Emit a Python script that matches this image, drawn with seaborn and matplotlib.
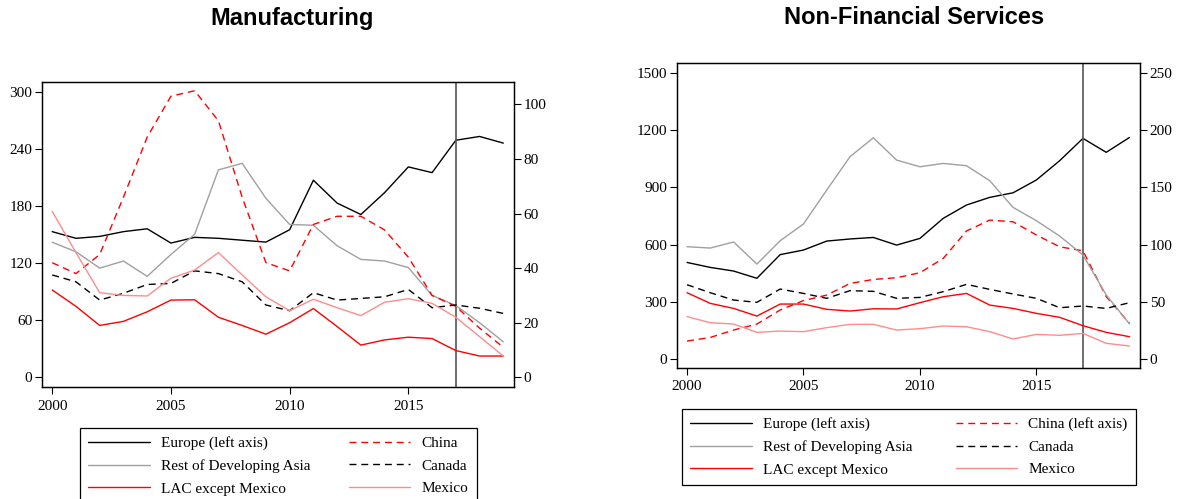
import numpy as np
import pandas as pd
import seaborn as sns
import matplotlib.pyplot as plt

years = list(range(2000, 2020))

# Manufacturing: Europe on left axis, the rest on right axis
mfg_europe = [153, 146, 148, 153, 156, 141, 147, 146, 144, 142, 155, 207, 183, 171, 194, 221, 215, 249, 253, 246]
mfg_china = [42, 38, 45, 66, 88, 103, 105, 94, 66, 42, 39, 56, 59, 59, 54, 44, 30, 26, 18, 11]
mfg_asia = [49.5, 46, 40, 42.6, 37, 45, 52.4, 76, 78.4, 65.6, 56, 55.7, 48.2, 43.2, 42.6, 40.2, 30, 26.3, 20, 13]
mfg_canada = [37.5, 35, 28.3, 30.8, 34, 34.4, 39, 38, 35, 26.5, 24.4, 31, 28.3, 28.9, 29.5, 32.2, 25.5, 26.5, 25.3, 23.4]
mfg_lac = [32, 26, 19, 20.5, 24, 28.3, 28.4, 22, 19, 15.8, 20, 25.2, 18.6, 11.8, 13.7, 14.7, 14.2, 9.8, 7.8, 7.8]
mfg_mexico = [60.8, 45.7, 31, 30, 29.8, 36.3, 39.3, 45.7, 37.5, 29.5, 24.4, 28.6, 25.5, 22.6, 27.5, 28.8, 27.1, 22, 14.9, 7.8]

# Non-financial services: Europe and China on left axis, the rest on right axis
svc_europe = [506, 480, 461, 423, 547, 571, 618, 629, 637, 597, 632, 737, 807, 847, 871, 938, 1039, 1156, 1083, 1161]
svc_china = [94, 113, 152, 183, 257, 306, 335, 396, 417, 426, 452, 527, 671, 728, 719, 650, 588, 567, 327, 187]
svc_asia = [98.1, 96.9, 102.2, 82.9, 103.3, 117.9, 147.6, 176.7, 193.2, 173.7, 167.9, 170.8, 168.8, 155.7, 132.4, 120.8, 107.4, 90.8, 55.9, 30.6]
svc_canada = [64.9, 57.9, 51.5, 49.5, 61.1, 57.3, 53, 59.7, 59.1, 53, 53.8, 58.8, 65.2, 60.8, 56.8, 53, 44.8, 46.3, 44.2, 49.2]
svc_lac = [57.9, 48.6, 44.2, 37.5, 48, 48, 43.4, 41.9, 43.9, 43.7, 49.2, 54.4, 57.3, 47.1, 44.2, 39.9, 36.4, 29.1, 23.3, 19.5]
svc_mexico = [37, 31.7, 30.6, 23.3, 24.4, 23.9, 27.4, 30.3, 30.3, 25.3, 26.5, 28.8, 28.2, 23.9, 17.5, 21.5, 20.7, 22.4, 13.7, 11.4]

sns.set_style('ticks')
plt.rcParams['font.family'] = ['Liberation Serif', 'DejaVu Serif']
plt.rcParams['text.color'] = 'black'
plt.rcParams['xtick.color'] = 'black'
plt.rcParams['ytick.color'] = 'black'
plt.rcParams['xtick.labelcolor'] = 'black'
plt.rcParams['ytick.labelcolor'] = 'black'

black = '#000000'
grey = '#a0a0a0'
red = '#ff0000'
pink = '#ff8c8c'
dash = (5, 3.5)


def draw(ax, y, color, dashed, label):
    sns.lineplot(x=years, y=y, ax=ax, color=color, lw=1.0, label=label, legend=False)
    ln = ax.get_lines()[-1]
    if dashed:
        ln.set_dashes(dash)
    return ln


def style(ax, ax2, ylim, y2lim, yt, y2t):
    ax.set_xlim(1999.57, 2019.45)
    ax.set_ylim(*ylim)
    ax2.set_ylim(*y2lim)
    ax.set_xticks([2000, 2005, 2010, 2015])
    ax.set_yticks(yt)
    ax2.set_yticks(y2t)
    for a in (ax, ax2):
        a.tick_params(length=5, width=0.8, labelsize=11, pad=2, color='black', labelcolor='black')
        for s in a.spines.values():
            s.set_visible(True)
            s.set_linewidth(0.9)
            s.set_color('black')
    ax.tick_params(axis='x', pad=4)
    ax.axvline(2017, color='#555555', lw=1.2)


fig = plt.figure(figsize=(11.79, 4.99), dpi=100)

# ---- Manufacturing
ax = fig.add_axes([42 / 1179, 1 - 387 / 499, 472 / 1179, 305 / 499])
ax2 = ax.twinx()
h = []
h.append(draw(ax, mfg_europe, black, False, 'Europe (left axis)'))
h.append(draw(ax2, mfg_asia, grey, False, 'Rest of Developing Asia'))
h.append(draw(ax2, mfg_lac, red, False, 'LAC except Mexico'))
h.append(draw(ax2, mfg_china, red, True, 'China'))
h.append(draw(ax2, mfg_canada, black, True, 'Canada'))
h.append(draw(ax2, mfg_mexico, pink, False, 'Mexico'))
style(ax, ax2, (-10.2, 310.2), (-3.55, 108.2), range(0, 301, 60), range(0, 101, 20))
fig.text(292 / 1179, 1 - 18 / 499, 'Manufacturing', ha='center', va='center', color='black',
         fontsize=17, fontweight='bold', family=['Liberation Sans', 'DejaVu Sans'])
fig.legend(handles=h, ncol=2, loc='upper left', mode='expand', borderaxespad=0,
           bbox_to_anchor=(80 / 1179, 1 - 428 / 499 - 0.3, 397 / 1179, 0.3),
           fontsize=11, handlelength=4.0, handletextpad=0.75, labelspacing=0.58,
           borderpad=0.55, fancybox=False, edgecolor='black', framealpha=1)

# ---- Non-Financial Services
bx = fig.add_axes([677 / 1179, 1 - 368 / 499, 463 / 1179, 305 / 499])
bx2 = bx.twinx()
g = []
g.append(draw(bx, svc_europe, black, False, 'Europe (left axis)'))
g.append(draw(bx2, svc_asia, grey, False, 'Rest of Developing Asia'))
g.append(draw(bx2, svc_lac, red, False, 'LAC except Mexico'))
g.append(draw(bx, svc_china, red, True, 'China (left axis)'))
g.append(draw(bx2, svc_canada, black, True, 'Canada'))
g.append(draw(bx2, svc_mexico, pink, False, 'Mexico'))
style(bx, bx2, (-47, 1551), (-47 / 6, 1551 / 6), range(0, 1501, 300), range(0, 251, 50))
fig.text(914 / 1179, 1 - 18 / 499, 'Non-Financial Services', ha='center', va='center', color='black',
         fontsize=17, fontweight='bold', family=['Liberation Sans', 'DejaVu Sans'])
fig.legend(handles=g, ncol=2, loc='upper left', mode='expand', borderaxespad=0,
           bbox_to_anchor=(682 / 1179, 1 - 409 / 499 - 0.3, 454 / 1179, 0.3),
           fontsize=11, handlelength=4.0, handletextpad=0.75, labelspacing=0.58,
           borderpad=0.55, fancybox=False, edgecolor='black', framealpha=1)

for l in fig.legends:
    l.get_frame().set_linewidth(0.9)
    for t in l.get_texts():
        t.set_color('black')

fig.savefig('out.png', dpi=100)
